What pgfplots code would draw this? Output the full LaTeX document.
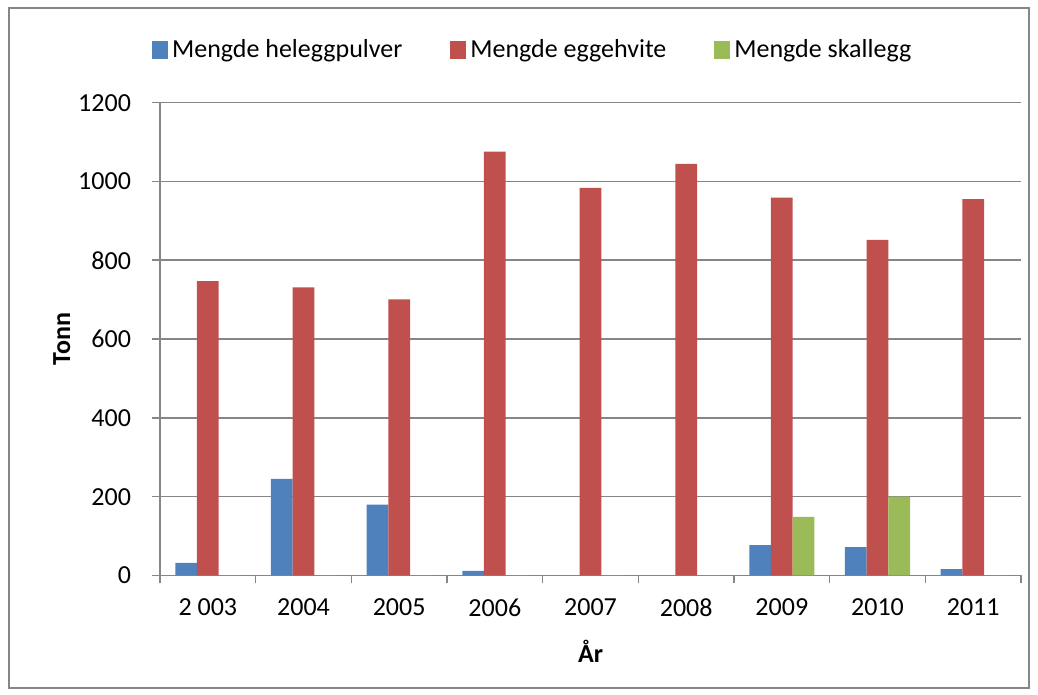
\documentclass[border=0pt]{standalone}
\usepackage{fontspec}
\setmainfont{Carlito}
\usepackage{pgfplots}
\pgfplotsset{compat=1.18}
\definecolor{cblue}{HTML}{4F81BD}
\definecolor{cred}{HTML}{C0504D}
\definecolor{cgreen}{HTML}{9BBB59}
\definecolor{axgray}{HTML}{868686}
\begin{document}
\begin{tikzpicture}
\path (0,0) rectangle (519pt,347.5pt);
\draw[axgray, line width=0.6pt] (4.5pt,3.5pt) rectangle (514.5pt,343.5pt);
\begin{axis}[
  at={(80pt,59.75pt)}, anchor=south west,
  scale only axis, width=430.5pt, height=236.4pt,
  font=\fontsize{13}{15}\selectfont,
  ybar=0pt, bar width=10.85pt,
  xmin=-0.5, xmax=8.5, ymin=0, ymax=1200,
  xtick={0,...,8},
  xticklabels={2 003,2004,2005,2006,2007,2008,2009,2010,2011},
  major x tick style={draw=none},
  minor xtick={-0.5,0.5,...,8.5},
  minor tick length=4pt,
  ytick={0,200,...,1200},
  tick align=outside, major tick length=4pt,
  tick style={axgray, line width=0.8pt},
  axis x line*=bottom, axis y line*=left,
  axis line style={axgray, line width=0.8pt, -},
  ymajorgrids, grid style={axgray, line width=0.8pt},
  /pgf/number format/assume math mode=true,
  /pgf/number format/.cd, set thousands separator={}, /pgfplots/.cd,
  yticklabel style={xshift=-7pt},
  xticklabel style={yshift=-4pt},
  ylabel={\textbf{Tonn}}, ylabel style={at={(axis description cs:-0.114,0.5)}, anchor=center},
  xlabel={\textbf{År}}, xlabel style={at={(axis description cs:0.5,-0.16)}, anchor=center},
  legend style={at={(0.434,1.111)}, anchor=center, draw=none, fill=none,
    legend columns=-1, /tikz/every even column/.append style={column sep=22pt},
    font=\fontsize{13}{15}\selectfont},
  legend image code/.code={\fill[#1] (0pt,-4.5pt) rectangle (8pt,4.5pt);},
]
\addplot[fill=cblue, draw=none] coordinates {(0,32) (1,245) (2,180) (3,12) (4,0) (5,0) (6,77) (7,72) (8,16)};
\addplot[fill=cred, draw=none] coordinates {(0,747) (1,731) (2,701) (3,1076) (4,984) (5,1045) (6,959) (7,852) (8,955)};
\addplot[fill=cgreen, draw=none] coordinates {(0,0) (1,0) (2,0) (3,0) (4,0) (5,0) (6,149) (7,200) (8,0)};
\legend{Mengde heleggpulver, Mengde eggehvite, Mengde skallegg}
\end{axis}
\end{tikzpicture}
\end{document}
